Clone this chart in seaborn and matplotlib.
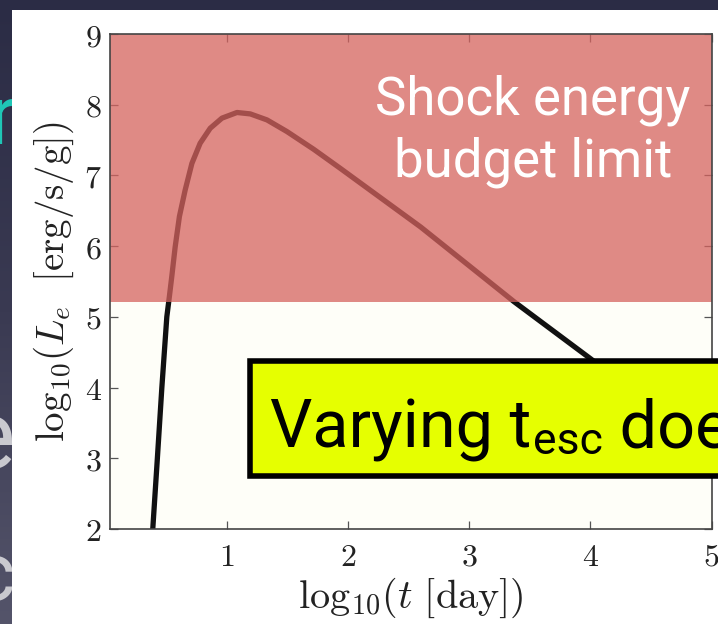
import numpy as np
import matplotlib
matplotlib.use("Agg")
import matplotlib.pyplot as plt
from matplotlib.patches import Rectangle
from matplotlib.text import Annotation
import seaborn as sns

# Electron luminosity light curve: log10(t [day]) vs log10(L_e [erg/s/g])
log_t = [0.388, 0.426, 0.463, 0.504, 0.526, 0.545, 0.573, 0.608, 0.655,
         0.711, 0.779, 0.862, 0.959, 1.083, 1.193, 1.331, 1.496, 1.716,
         1.936, 2.60, 3.37, 4.00, 4.50, 5.00]
log_L = [2.0, 3.0, 4.0, 5.0, 5.30, 5.57, 5.99, 6.42, 6.79,
         7.17, 7.455, 7.667, 7.81, 7.89, 7.87, 7.785, 7.62, 7.37,
         7.10, 6.27, 5.215, 4.41, 3.75, 3.10]

# shock energy budget limit (shaded above)
budget_limit = 5.215
y_top = 9

x_ticks = [1, 2, 3, 4, 5]
y_ticks = [2, 3, 4, 5, 6, 7, 8, 9]
x_tick_labels = ["1", "2", "3", "4", "5"]
y_tick_labels = ["2", "3", "4", "5", "6", "7", "8", "9"]

sns.set_theme(style="ticks")
plt.rcParams["mathtext.fontset"] = "cm"
plt.rcParams["font.family"] = ["DejaVu Sans"]

W, H = 718, 624
fig = plt.figure(figsize=(W / 100, H / 100), dpi=100)

# slide background gradient
bg = fig.add_axes([0, 0, 1, 1], zorder=-10)
grad = np.linspace(0, 1, 256)[:, None]
bg.imshow(grad, aspect="auto", extent=[0, 1, 0, 1], origin="upper",
          cmap=matplotlib.colors.LinearSegmentedColormap.from_list(
              "slide", ["#2b2c45", "#3a3a52", "#54546a"]))
bg.set_axis_off()

# large slide text peeking out from behind the chart panel
fig.text(16 / W, 1 - 144 / H, "r", fontsize=60, color="#1fc6b6",
         family="Roboto", ha="right", va="baseline", zorder=-6)
fig.text(15 / W, 1 - 468 / H, "e", fontsize=70, color="#c9c9cf",
         family="Roboto", ha="right", va="baseline", zorder=-6)
fig.text(15 / W, 1 - 600 / H, "c", fontsize=58, color="#c9c9cf",
         family="Roboto", ha="right", va="baseline", zorder=-6)

# white chart panel
fig.add_artist(Rectangle((12 / W, -0.02), 1.0, 1 - 10 / H + 0.02,
                         transform=fig.transFigure, facecolor="white",
                         edgecolor="none", zorder=-5))

ax = fig.add_axes([110 / W, 1 - 529 / H, 601.5 / W, 495 / H], zorder=0)
ax.set_facecolor("#fefef8")

sns.lineplot(x=log_t, y=log_L, sort=False, estimator=None, ax=ax,
             color="#111111", lw=3.8, zorder=2)
ax.axhspan(budget_limit, y_top, color="#d5635f", alpha=0.75, lw=0, zorder=3)

ax.set_xlim(0.035, 5)
ax.set_ylim(2, y_top)
ax.set_xticks(x_ticks)
ax.set_xticklabels([f"${s}$" for s in x_tick_labels])
ax.set_yticks(y_ticks)
ax.set_yticklabels([f"${s}$" for s in y_tick_labels])
ax.tick_params(direction="in", length=6, width=0.9, color="#555555",
               labelsize=23, labelcolor="#222222", top=True, right=True)
ax.tick_params(axis="x", pad=9)
ax.tick_params(axis="y", pad=6)
for sp in ax.spines.values():
    sp.set_color("#444444")
    sp.set_linewidth(1.2)
    sp.set_zorder(4)

ax.set_xlabel(r"$\mathrm{log}_{10}(t\ [\mathrm{day}])$", fontsize=29,
              color="#222222", labelpad=2)
ax.set_ylabel(r"$\mathrm{log}_{10}(L_e\ \ [\mathrm{erg/s/g}])$", fontsize=28,
              color="#222222", labelpad=6)

fig.text(533 / W, 1 - 131 / H, "Shock energy\nbudget limit", fontsize=38,
         color="white", family="Roboto", ha="center", va="center",
         linespacing=1.25, zorder=5)

# callout box
fig.add_artist(Rectangle((249.7 / W, 1 - 475.5 / H), 0.7, 114.3 / H,
                         transform=fig.transFigure, facecolor="#e6ff00",
                         edgecolor="black", lw=4, zorder=6))
t1 = fig.text(270 / W, 1 - 447 / H, "Varying t", fontsize=48, color="black",
              family="Roboto", ha="left", va="baseline", zorder=7)
t2 = Annotation("esc", xy=(1, 0), xycoords=t1, xytext=(1, -1),
                textcoords="offset points", fontsize=32, color="black",
                family="Roboto", ha="left", va="bottom", zorder=7)
fig.add_artist(t2)
t3 = Annotation(" doe", xy=(1, 0), xycoords=(t2, t1), xytext=(0, 0),
                textcoords="offset points", fontsize=48, color="black",
                family="Roboto", ha="left", va="bottom", zorder=7)
fig.add_artist(t3)

fig.savefig("out.png", dpi=100)
